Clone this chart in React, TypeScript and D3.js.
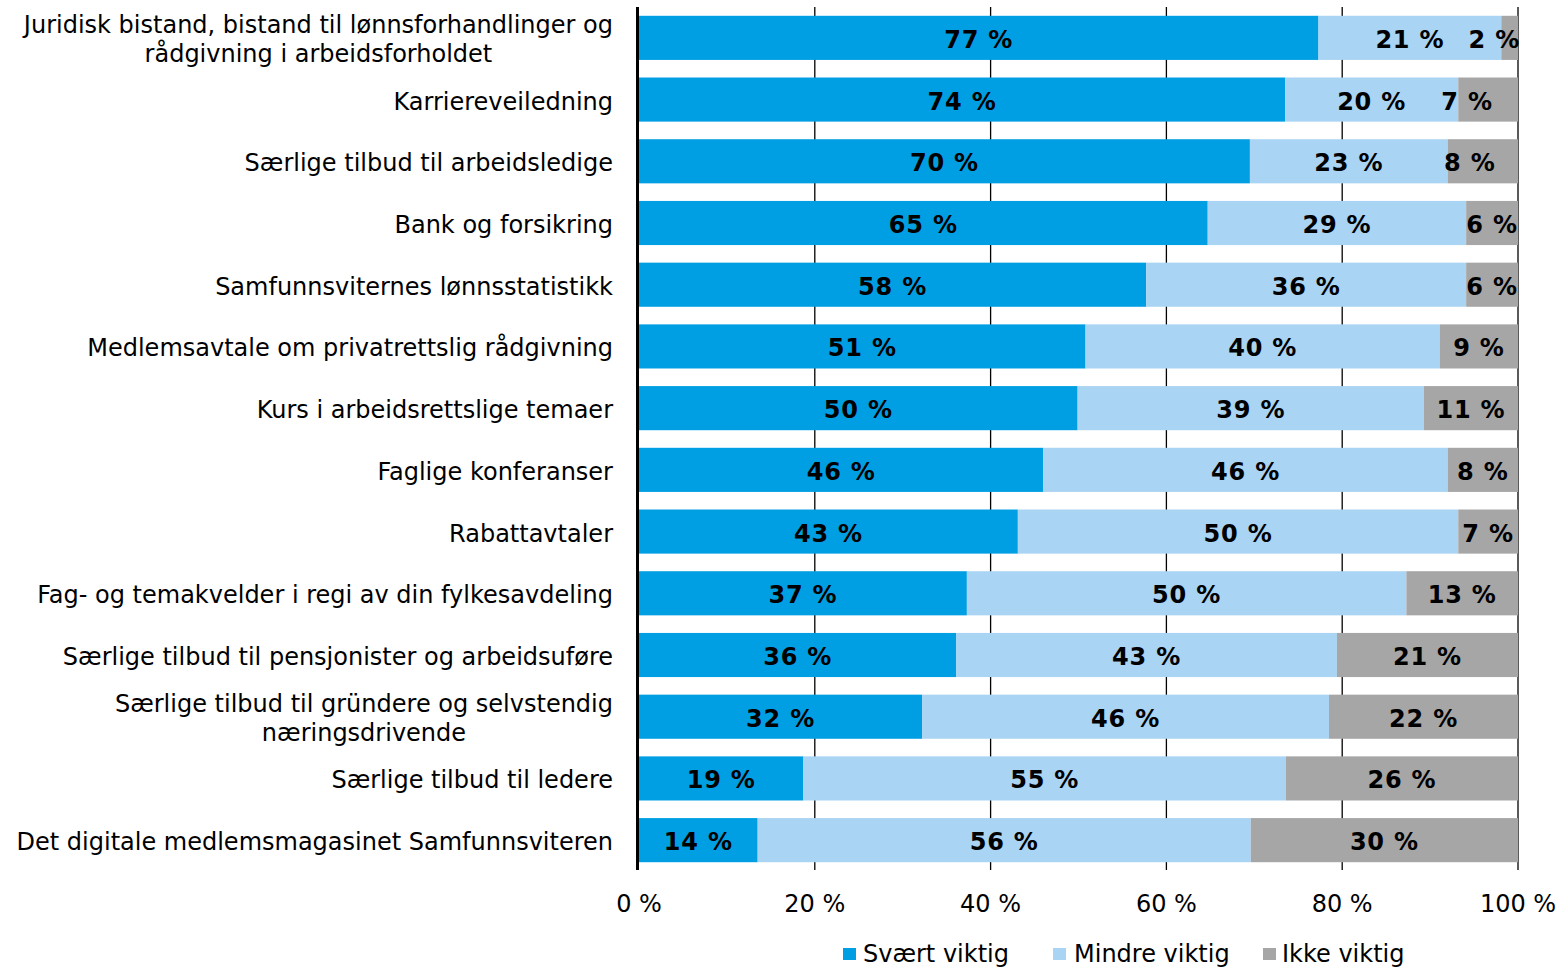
import React, { useEffect, useRef } from "react";
import * as d3 from "d3";

const categories: string[][] = [
  ["Juridisk bistand, bistand til lønnsforhandlinger og", "rådgivning i arbeidsforholdet"],
  ["Karriereveiledning"],
  ["Særlige tilbud til arbeidsledige"],
  ["Bank og forsikring"],
  ["Samfunnsviternes lønnsstatistikk"],
  ["Medlemsavtale om privatrettslig rådgivning"],
  ["Kurs i arbeidsrettslige temaer"],
  ["Faglige konferanser"],
  ["Rabattavtaler"],
  ["Fag- og temakvelder i regi av din fylkesavdeling"],
  ["Særlige tilbud til pensjonister og arbeidsuføre"],
  ["Særlige tilbud til gründere og selvstendig", "næringsdrivende"],
  ["Særlige tilbud til ledere"],
  ["Det digitale medlemsmagasinet Samfunnsviteren"],
];

const svaertViktig = [77.3, 73.5, 69.5, 64.7, 57.7, 50.8, 49.9, 46.0, 43.1, 37.3, 36.1, 32.2, 18.7, 13.5];
const mindreViktig = [20.8, 19.7, 22.5, 29.4, 36.4, 40.3, 39.4, 46.0, 50.1, 50.0, 43.3, 46.3, 54.9, 56.1];
const ikkeViktig = [1.9, 6.8, 8.0, 5.9, 5.9, 8.9, 10.7, 8.0, 6.8, 12.7, 20.6, 21.5, 26.4, 30.4];

const seriesNames = ["Svært viktig", "Mindre viktig", "Ikke viktig"];
const seriesColors = ["#009FE3", "#A9D4F4", "#A6A6A6"];
const xTicks = [0, 20, 40, 60, 80, 100];

// manual label nudges (px) as in the original chart: key = "series-row"
const labelNudge: Record<string, number> = { "2-1": -21, "2-2": -13 };

const FONT = "'DejaVu Sans', Verdana, sans-serif";
const FS = 24;

export default function App() {
  const ref = useRef<SVGSVGElement>(null);

  useEffect(() => {
    const svg = d3.select(ref.current);
    svg.selectAll("*").remove();

    const x = d3.scaleLinear().domain([0, 100]).range([639, 1518]);
    const y = d3
      .scaleBand<number>()
      .domain(d3.range(categories.length))
      .range([7, 871])
      .paddingInner(0.285)
      .paddingOuter(0.1425);

    const rows = categories.map((c, i) => ({
      i,
      vals: [svaertViktig[i], mindreViktig[i], ikkeViktig[i]],
    }));

    // gridlines
    svg
      .append("g")
      .selectAll("line")
      .data(xTicks.slice(1))
      .join("line")
      .attr("x1", (d) => x(d))
      .attr("x2", (d) => x(d))
      .attr("y1", 7)
      .attr("y2", 870)
      .attr("stroke", "#000")
      .attr("stroke-width", 1.3);

    const seriesData = seriesNames.map((name, s) =>
      rows.map((r) => {
        const start = d3.sum(r.vals.slice(0, s));
        return { s, i: r.i, x0: start, x1: start + r.vals[s], v: r.vals[s] };
      })
    );

    seriesData.forEach((sd, s) => {
      svg
        .append("g")
        .selectAll("rect")
        .data(sd)
        .join("rect")
        .attr("x", (d) => x(d.x0))
        .attr("y", (d) => y(d.i)!)
        .attr("width", (d) => x(d.x1) - x(d.x0))
        .attr("height", y.bandwidth())
        .attr("fill", seriesColors[s]);
    });

    seriesData.forEach((sd) => {
      const t = svg
        .append("g")
        .selectAll("text")
        .data(sd)
        .join("text")
        .attr("y", (d) => y(d.i)! + y.bandwidth() / 2 + 10)
        .attr("text-anchor", "middle")
        .attr("font-family", FONT)
        .attr("font-weight", "bold")
        .attr("font-size", FS)
        .attr("letter-spacing", 0.8)
        .attr("fill", "#000")
        .text((d) => `${Math.round(d.v)} %`);
      t.each(function (d) {
        const w = (this as SVGTextElement).getComputedTextLength();
        let cx = x((d.x0 + d.x1) / 2) + (labelNudge[`${d.s}-${d.i}`] || 0);
        cx = Math.min(cx, x(100) + 2 - w / 2);
        d3.select(this).attr("x", cx);
      });
    });

    // axis line
    svg
      .append("line")
      .attr("x1", 637.5)
      .attr("x2", 637.5)
      .attr("y1", 7)
      .attr("y2", 870)
      .attr("stroke", "#000")
      .attr("stroke-width", 3);

    // x tick labels
    svg
      .append("g")
      .selectAll("text")
      .data(xTicks)
      .join("text")
      .attr("x", (d) => x(d))
      .attr("y", 912)
      .attr("text-anchor", "middle")
      .attr("font-family", FONT)
      .attr("font-size", FS)
      .attr("fill", "#000")
      .text((d) => `${d} %`);

    // category labels
    const labelG = svg.append("g");
    rows.forEach((r) => {
      const lines = categories[r.i];
      const cy = y(r.i)! + y.bandwidth() / 2;
      const lh = 29;
      const g = labelG.append("g");
      const texts = lines.map((ln, k) =>
        g
          .append("text")
          .attr("y", cy + (k - (lines.length - 1) / 2) * lh + 10)
          .attr("font-family", FONT)
          .attr("font-size", FS)
          .attr("fill", "#000")
          .attr("text-anchor", "middle")
          .text(ln)
      );
      const widths = texts.map((t) => (t.node() as SVGTextElement).getComputedTextLength());
      const maxW = d3.max(widths) || 0;
      const center = 613 - maxW / 2;
      texts.forEach((t) => t.attr("x", center));
    });

    // legend
    const legendItems = [
      { sx: 843, tx: 863 },
      { sx: 1053, tx: 1074 },
      { sx: 1263, tx: 1282 },
    ];
    legendItems.forEach((li, s) => {
      svg
        .append("rect")
        .attr("x", li.sx)
        .attr("y", 948)
        .attr("width", 13)
        .attr("height", 12)
        .attr("fill", seriesColors[s]);
      svg
        .append("text")
        .attr("x", li.tx)
        .attr("y", 962)
        .attr("font-family", FONT)
        .attr("font-size", FS)
        .attr("fill", "#000")
        .text(seriesNames[s]);
    });
  }, []);

  return (
    <svg
      ref={ref}
      width={1562}
      height={967}
      style={{ position: "absolute", left: 0, top: 0, background: "#fff" }}
    />
  );
}
